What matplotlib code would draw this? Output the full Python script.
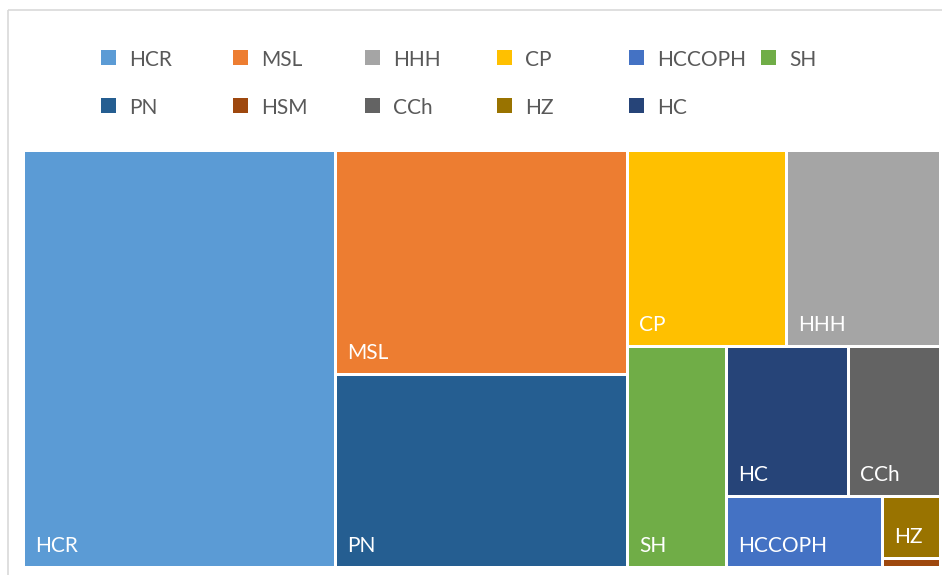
"""
Treemap of category shares (Excel-style), drawn with plain matplotlib patches.
"""

import matplotlib.pyplot as plt
from matplotlib.patches import Rectangle

# Data (series order as in the legend)
names = ['HCR', 'MSL', 'HHH', 'CP', 'HCCOPH', 'SH', 'PN', 'HSM', 'CCh', 'HZ', 'HC']
values = [34.0, 17.1, 7.9, 8.1, 2.9, 5.7, 14.8, 0.14, 3.6, 0.93, 4.8]
colors = ['#5B9BD5', '#ED7D31', '#A5A5A5', '#FFC000', '#4472C4', '#70AD47',
          '#255E91', '#9E480E', '#636363', '#997300', '#264478']

# How the tiles are grouped into strips ('v' = column taken from the left,
# 'h' = row taken from the top)
strips = [
    (['HCR'], 'v'),
    (['MSL', 'PN'], 'v'),
    (['CP', 'HHH'], 'h'),
    (['SH'], 'v'),
    (['HC', 'CCh'], 'h'),
    (['HCCOPH'], 'v'),
    (['HZ', 'HSM'], 'v'),
]

val = dict(zip(names, values))
col = dict(zip(names, colors))

W, H = 942, 575
fig = plt.figure(figsize=(W / 100, H / 100), dpi=100)
plt.rcParams['font.family'] = ['Lato', 'DejaVu Sans']

# chart area border
fig.patches.append(Rectangle((8 / W, 1 - 10 / H), 2, -2, transform=fig.transFigure,
                             facecolor='none', edgecolor='#D9D9D9', linewidth=1.2))

# plot area in pixels (left, top, right, bottom)
px0, py0, px1, py1 = 23.5, 150.5, 940.5, 567.5
ax = fig.add_axes([px0 / W, 1 - py1 / H, (px1 - px0) / W, (py1 - py0) / H])
ax.set_xlim(0, px1 - px0)
ax.set_ylim(py1 - py0, 0)
ax.axis('off')

# slice-and-dice along the strips
x0, y0, x1, y1 = 0, 0, px1 - px0, py1 - py0
remaining = sum(values)
cells = {}
for group, orient in strips:
    tot = sum(val[n] for n in group)
    frac = tot / remaining
    if orient == 'v':
        sw = (x1 - x0) * frac
        yy = y0
        for n in group:
            h = (y1 - y0) * val[n] / tot
            cells[n] = (x0, yy, sw, h)
            yy += h
        x0 += sw
    else:
        sh = (y1 - y0) * frac
        xx = x0
        for n in group:
            w = (x1 - x0) * val[n] / tot
            cells[n] = (xx, y0, w, sh)
            xx += w
        y0 += sh
    remaining -= tot

gap = 1.5
for n in names:
    cx, cy, cw, ch = cells[n]
    ax.add_patch(Rectangle((cx + gap, cy + gap), cw - 2 * gap, ch - 2 * gap,
                           facecolor=col[n], edgecolor='none'))
    if ch > 25 and cw > 40:
        ax.text(cx + gap + 10, cy + ch - gap - 14, n, color='white',
                fontsize=15, ha='left', va='baseline')

# legend, two rows of six, drawn in figure pixels
rows = [names[:6], names[6:]]
for r, row in enumerate(rows):
    ytop = 50 + 48 * r
    for i, n in enumerate(row):
        lx = 101 + 132 * i
        fig.patches.append(Rectangle((lx / W, 1 - (ytop + 15) / H), 15 / W, 15 / H,
                                     transform=fig.transFigure,
                                     facecolor=col[n], edgecolor='none'))
        fig.text((lx + 28) / W, 1 - (ytop + 16.5) / H, n, color='#595959',
                 fontsize=15, ha='left', va='baseline')

plt.savefig('out.png', dpi=100)
plt.close()
